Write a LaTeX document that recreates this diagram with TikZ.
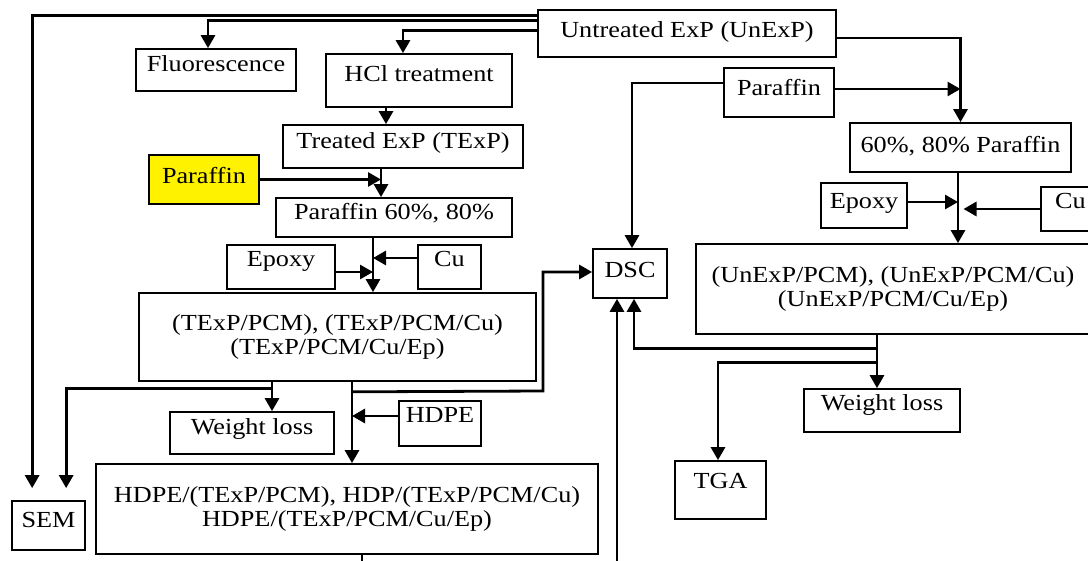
\documentclass[tikz,border=0pt]{standalone}
\usepackage{fontspec}
\setmainfont{Liberation Serif}[FakeStretch=1.14]
\usetikzlibrary{arrows.meta}
\tikzset{x=1pt, y=-1pt, % one unit is one pixel, y runs downwards
sz/.style 2 args={minimum width=#1pt, minimum height=#2pt},
box/.style={ % Sets the properties for each box
draw, line width=1.7pt, inner sep=0pt,
font=\fontsize{23}{24}\selectfont,
text height=16pt, text depth=12pt},
bigbox/.style={ % Boxes with two lines of text
draw, line width=1.7pt, inner sep=0pt, align=center,
font=\fontsize{23}{24}\selectfont},
flow/.style={ % Sets the properties for each connector
draw, ->, >={Triangle[length=13pt,width=14pt]},
line width=2.8pt},
wire/.style={draw, line width=2.8pt}}

\begin{document}
\begin{tikzpicture}
\useasboundingbox (0,0) rectangle (1088,561);
\clip (0,0) rectangle (1088,561);
\node[box, sz={298}{47}, text depth=7pt] (unexp) at (687,33.5) {Untreated ExP (UnExP)};
\node[box, sz={160}{42}] (fluo) at (216,70) {Fluorescence};
\node[box, sz={186}{53}, text depth=13pt] (hcl) at (419,80.5) {HCl treatment};
\node[box, sz={240}{43}] (treated) at (403,146.5) {Treated ExP (TExP)};
\node[box, sz={110}{49}, fill=yellow, text depth=8pt] (ypar) at (204,179.5) {Paraffin};
\node[box, sz={236}{39}] (par60) at (394,217.5) {Paraffin 60\%, 80\%};
\node[box, sz={108}{44}, text depth=16pt] (epoxy) at (281,267) {Epoxy};
\node[box, sz={63}{44}, text depth=16pt] (cu) at (449.5,267) {Cu};
\node[bigbox, sz={397}{88}] (texpc) at (337.5,337) {(TExP/PCM), (TExP/PCM/Cu)\\(TExP/PCM/Cu/Ep)};
\node[box, sz={164}{42}] (wlleft) at (252,433) {Weight loss};
\node[box, sz={82}{45}, text depth=18pt] (hdpe) at (440,423.5) {HDPE};
\node[bigbox, sz={502}{90}] (hdpec) at (347,509) {HDPE/(TExP/PCM), HDP/(TExP/PCM/Cu)\\HDPE/(TExP/PCM/Cu/Ep)};
\node[box, sz={73}{49}] (sem) at (48.5,525.5) {SEM};
\node[box, sz={74}{49}, text depth=8pt] (dsc) at (630,273.5) {DSC};
\node[box, sz={110}{49}, text depth=9pt] (parr) at (779,92.5) {Paraffin};
\node[box, sz={221}{49}, text depth=5pt] (par80) at (960.5,147.5) {60\%, 80\% Paraffin};
\node[box, sz={86}{45}, text depth=9pt] (epoxyr) at (864,205.5) {Epoxy};
\node[box, sz={59}{44}, text depth=17pt] (cur) at (1070.5,209) {Cu};
\node[bigbox, sz={394}{90}] (unexpc) at (893,289) {(UnExP/PCM), (UnExP/PCM/Cu)\\(UnExP/PCM/Cu/Ep)};
\node[box, sz={156}{43}, text depth=15pt] (wlright) at (882,410.5) {Weight loss};
\node[box, sz={91}{58}, text depth=20pt] (tga) at (720.5,490) {TGA};

\coordinate (j1) at (381,179.5);
\coordinate (j2) at (373,0);
\coordinate (j3) at (352,0);
\coordinate (j4) at (543,391);
\coordinate (b1) at (362,561);
\coordinate (b2) at (617,561);

\draw[flow] ([yshift=-6pt]unexp.north west) -| ([xshift=21pt,yshift=12pt]sem.north west);
\draw[flow] ([yshift=-11pt]unexp.north west) -| ([xshift=-8pt]fluo.north);
\draw[flow] ([yshift=-21pt]unexp.north west) -| ([xshift=-16pt]hcl.north);
\draw[flow] ([xshift=-33pt]hcl.south) -- ([xshift=-17pt]treated.north);
\draw[flow] ([xshift=-22pt]treated.south) -- ([xshift=-13pt]par60.north);
\draw[flow] (ypar.east) -- (j1);
\draw[flow] ([xshift=-21pt]par60.south) -- ([xshift=35.5pt]texpc.north);
\draw[flow] ([yshift=-5pt]epoxy.east) -- ([yshift=-5pt]epoxy.east -| j2);
\draw[flow] ([yshift=9pt]cu.west) -- ([yshift=9pt]cu.west -| j2);

\draw[flow] ([xshift=-65.5pt]texpc.south) -- ([xshift=20pt]wlleft.north);
\draw[flow] ([xshift=-65.5pt,yshift=-7pt]texpc.south) -| ([xshift=55pt,yshift=12pt]sem.north west);
\draw[flow] ([xshift=14.5pt]texpc.south) -- ([xshift=5pt]hdpec.north);
\draw[flow] ([yshift=7.5pt]hdpe.west) -- ([yshift=7.5pt]hdpe.west -| j3);
\draw[flow] ([xshift=14.5pt,yshift=-10pt]texpc.south) -- (j4) |- ([yshift=1.5pt]dsc.west);
\draw[wire] ([xshift=15pt]hdpec.south) -- (b1);
\draw[flow] (b2) -- ([xshift=-13pt]dsc.south);

\draw[flow] ([yshift=9.5pt]parr.west) -| ([xshift=2pt]dsc.north);
\draw[flow] ([yshift=3.5pt]parr.east) -- ([yshift=3.5pt]parr.east -| par80.north);
\draw[flow] ([yshift=-4.5pt]unexp.east) -| (par80.north);
\draw[flow] ([xshift=-2.5pt]par80.south) -- ([xshift=-2.5pt]par80.south |- unexpc.north);
\draw[flow] ([yshift=3.5pt]epoxyr.east) -- ([yshift=3.5pt,xshift=-2.5pt]epoxyr.east -| par80.south);
\draw[flow] (cur.west) -- ([xshift=3pt]cur.west -| par80.south);
\draw[flow] ([xshift=-16pt]unexpc.south) -- ([xshift=-5pt]wlright.north);
\draw[flow] ([xshift=-16pt,yshift=-14pt]unexpc.south) -| ([xshift=4pt]dsc.south);
\draw[flow] ([xshift=-16pt,yshift=-28pt]unexpc.south) -| ([xshift=-2.5pt]tga.north);
\end{tikzpicture}
\end{document}
